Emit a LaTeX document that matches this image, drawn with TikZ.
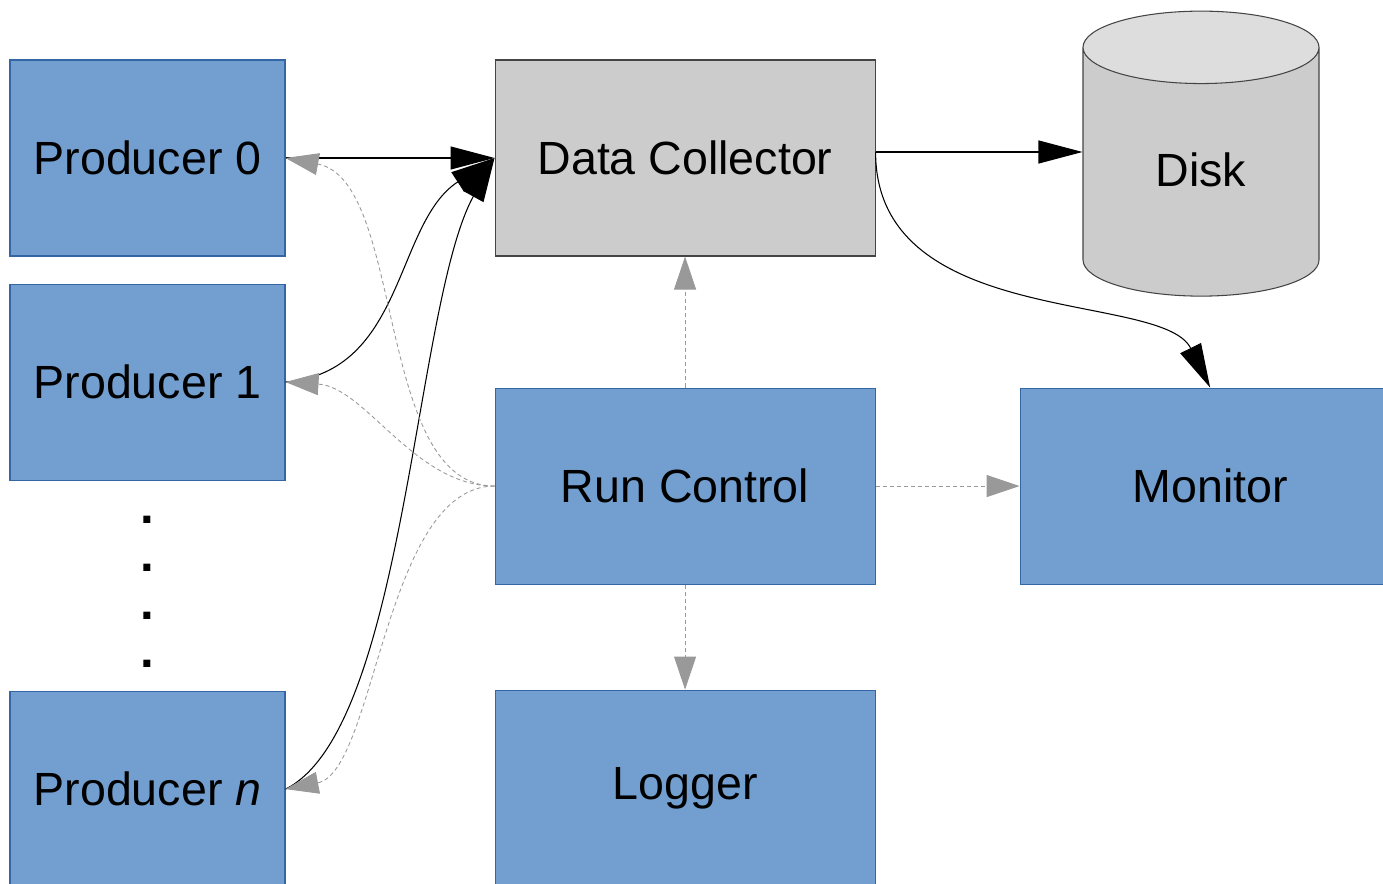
\documentclass[tikz,border=0pt]{standalone}
\usepackage{fontspec}
\setmainfont{Liberation Sans}
\usepackage{tikz}
\usetikzlibrary{arrows.meta,positioning,shapes.geometric}
\definecolor{procblue}{HTML}{729FCF}
\definecolor{procedge}{HTML}{3465A4}
\definecolor{store}{HTML}{CCCCCC}
\definecolor{storetop}{HTML}{DDDDDD}
\definecolor{ctrlgray}{HTML}{999999}
\definecolor{bk70}{HTML}{444444}
\tikzset{
  procbox/.style={
    rectangle, draw=procedge, fill=procblue, line width=0.6pt,
    minimum width=#1, minimum height=3.92cm,
    font=\fontsize{26.5}{32}\selectfont, inner sep=0pt
  },
  procbox/.default=5.5cm,
  collbox/.style={
    procbox=7.6cm, draw=bk70, fill=store
  },
  diskbox/.style={
    cylinder, shape border rotate=90, aspect=0.8,
    draw=bk70, line width=0.6pt,
    cylinder uses custom fill, cylinder body fill=store,
    cylinder end fill=storetop,
    minimum width=4.72cm, minimum height=5.7cm,
    font=\fontsize{26.5}{32}\selectfont, inner sep=0pt
  },
  dotmark/.style={font=\fontsize{28}{32}\selectfont\bfseries, inner sep=0pt},
  dataarrow/.style={
    -{Triangle[length=0.88cm, width=0.46cm]}, line width=0.6pt, color=black
  },
  ctrlarrow/.style={
    -{Triangle[length=0.66cm, width=0.44cm]}, line width=0.5pt,
    color=ctrlgray, dash pattern=on 2.3pt off 1.7pt
  },
}

\begin{document}
\begin{tikzpicture}
  \useasboundingbox (0,0) rectangle (27.66,17.66);
  % Producers on the left
  \node[procbox] (p0) at (2.95,14.5) {Producer 0};
  \node[procbox, below=0.54cm of p0] (p1) {Producer 1};
  \node[procbox, below=4.2cm of p1] (pn) {Producer \textit{n}};
  \foreach \k in {1,...,4}
    \node[dotmark] (dot\k) at (2.95,{8.22-0.96*\k}) {.};
  % Middle column
  \node[collbox, right=4.18cm of p0] (dc) {Data Collector};
  \node[procbox=7.6cm, below=2.62cm of dc] (rc) {Run Control};
  \node[procbox=7.6cm, below=2.1cm of rc] (log) {Logger};
  % Right column
  \node[procbox=7.6cm, right=2.88cm of rc] (mon) {Monitor};
  \node[diskbox] (disk) at (24.02,14.22) {\raisebox{-0.30cm}[0pt][0pt]{Disk}};
  \coordinate (dcout) at ([yshift=0.12cm]dc.east);
  % Data flow
  \draw[dataarrow] (p0.east) -- (dc.west);
  \draw[dataarrow] (p1.east) .. controls +(2.4,0.2) and +(-2.0,-1.3) .. (dc.west);
  \draw[dataarrow] (pn.east) .. controls +(2.4,1.2) and +(-1.6,-2.9) .. (dc.west);
  \draw[dataarrow] (dcout) -- (dcout -| disk.west);
  \draw[dataarrow] (dcout) .. controls +(0,-3.56) and +(-0.96,1.94) .. (mon.north);
  % Run control links
  \draw[ctrlarrow] (rc.west) .. controls +(-2.4,0) and +(2.4,-0.45) .. (p0.east);
  \draw[ctrlarrow] (rc.west) .. controls +(-1.6,0) and +(1.6,-0.1) .. (p1.east);
  \draw[ctrlarrow] (rc.west) .. controls +(-2.2,0) and +(1.8,0.35) .. (pn.east);
  \draw[ctrlarrow] (rc) -- (dc);
  \draw[ctrlarrow] (rc) -- (mon);
  \draw[ctrlarrow] (rc) -- (log);
\end{tikzpicture}
\end{document}
